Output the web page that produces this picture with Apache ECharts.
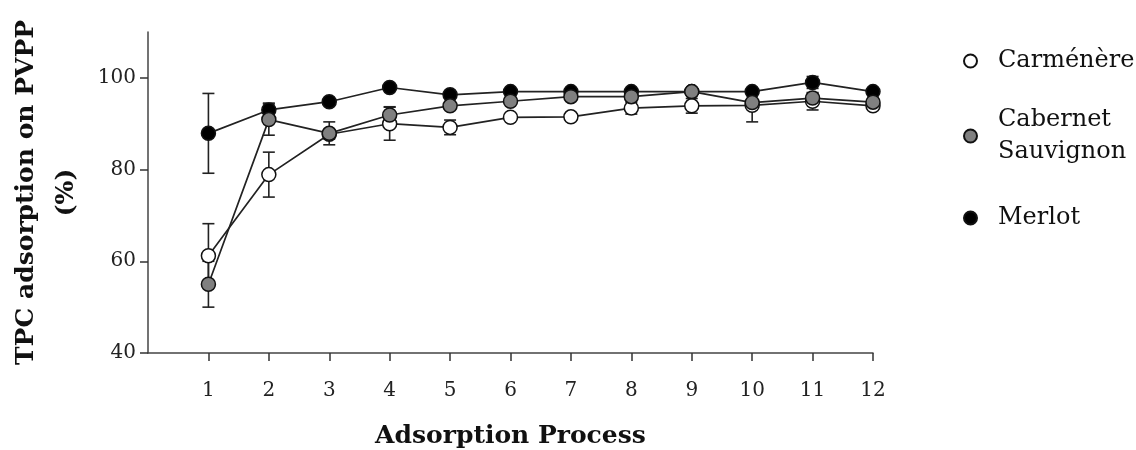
<!DOCTYPE html>
<html>
<head>
<meta charset="utf-8">
<script src="https://cdn.jsdelivr.net/npm/echarts@6/dist/echarts.min.js"></script>
<style>html,body{margin:0;padding:0;background:#fff}#c{width:1136px;height:450px}</style>
</head>
<body>
<div id="c"></div>
<script>
const processes = [1,2,3,4,5,6,7,8,9,10,11,12];
const carmenere = [61.2, 78.9, 87.7, 90.0, 89.2, 91.4, 91.5, 93.4, 93.9, 94.0, 94.9, 93.9];
const carmenereErr = [7.0, 4.9, 1.0, 3.6, 1.6, 0.5, 0.5, 1.3, 1.6, 3.6, 1.9, 0.5];
const cabernet = [55.0, 90.9, 87.9, 91.9, 93.9, 94.9, 95.9, 95.9, 97.0, 94.6, 95.6, 94.7];
const cabernetErr = [5.0, 3.4, 2.5, 1.8, 0.5, 0.5, 0.5, 0.5, 0.5, 0.8, 1.0, 0.5];
const merlot = [87.9, 93.0, 94.8, 97.9, 96.3, 97.0, 97.0, 97.0, 97.0, 97.0, 99.0, 97.0];
const merlotErr = [8.7, 1.5, 0.5, 0.5, 0.5, 0.5, 0.5, 0.5, 0.5, 0.5, 1.3, 0.5];
const yTicks = [40, 60, 80, 100];

const FONT = 'DejaVu Serif';
const LINE = '#222';

function pts(vals){ return processes.map((x,i)=>[x, vals[i]]); }
function errs(vals, e){ return processes.map((x,i)=>[x, vals[i]-e[i], vals[i]+e[i]]); }

function errSeries(vals, e, z){
  return {
    type: 'custom',
    z: z,
    silent: true,
    data: errs(vals, e),
    encode: {x: 0, y: [1, 2]},
    renderItem: function(params, api){
      const x = api.value(0);
      const lo = api.coord([x, api.value(1)]);
      const hi = api.coord([x, api.value(2)]);
      const w = 6;
      const st = {stroke: LINE, lineWidth: 1.6};
      return {type: 'group', children: [
        {type: 'line', shape: {x1: lo[0], y1: lo[1], x2: hi[0], y2: hi[1]}, style: st},
        {type: 'line', shape: {x1: lo[0]-w, y1: lo[1], x2: lo[0]+w, y2: lo[1]}, style: st},
        {type: 'line', shape: {x1: hi[0]-w, y1: hi[1], x2: hi[0]+w, y2: hi[1]}, style: st}
      ]};
    }
  };
}

function lineSeries(name, vals, fill, z){
  return {
    name: name, type: 'line', z: z,
    data: pts(vals),
    symbol: 'circle', symbolSize: 14,
    lineStyle: {color: LINE, width: 1.7},
    itemStyle: {color: fill, borderColor: '#111', borderWidth: 1.5},
    emphasis: {disabled: true},
    animation: false
  };
}

function legendAt(name, top, label){
  return {
    data: [name], left: 958, top: top, orient: 'vertical',
    icon: 'circle', itemWidth: 13, itemHeight: 13, itemGap: 0,
    formatter: label ? () => label : undefined,
    textStyle: {fontFamily: FONT, fontSize: 24, color: '#111', lineHeight: 32, padding: [0,0,0,16]},
    selectedMode: false
  };
}

const chart = echarts.init(document.getElementById('c'), null, {renderer: 'canvas'});
chart.setOption({
  animation: false,
  backgroundColor: '#fff',
  grid: {left: 148, right: 263, top: 32, bottom: 97, containLabel: false, outerBoundsMode: 'none'},
  legend: [
    legendAt('Carménère', 40),
    legendAt('Cabernet Sauvignon', 99, 'Cabernet\nSauvignon'),
    legendAt('Merlot', 197)
  ],
  xAxis: {
    type: 'value', min: 0, max: 12, interval: 1,
    name: 'Adsorption Process', nameLocation: 'middle', nameGap: 71,
    nameTextStyle: {fontFamily: FONT, fontWeight: 'bold', fontSize: 25, color: '#111'},
    axisLine: {lineStyle: {color: '#444', width: 1.5}},
    axisTick: {show: true, length: 8, lineStyle: {color: '#333', width: 1.5}, customValues: processes},
    axisLabel: {fontFamily: FONT, fontSize: 20, color: '#222', margin: 28, customValues: processes},
    splitLine: {show: false}
  },
  yAxis: {
    type: 'value', min: 40, max: 110, interval: 20,
    name: 'TPC adsorption on PVPP\n(%)', nameLocation: 'middle', nameGap: 58, nameRotate: 90,
    nameTextStyle: {fontFamily: FONT, fontWeight: 'bold', fontSize: 25, color: '#111', lineHeight: 40, align: 'center'},
    axisLine: {show: true, lineStyle: {color: '#444', width: 1.5}},
    axisTick: {show: true, length: 8, lineStyle: {color: '#333', width: 1.5}, customValues: yTicks},
    axisLabel: {fontFamily: FONT, fontSize: 20, color: '#222', margin: 12, customValues: yTicks},
    splitLine: {show: false}
  },
  series: [
    errSeries(carmenere, carmenereErr, 1),
    errSeries(merlot, merlotErr, 1),
    errSeries(cabernet, cabernetErr, 1),
    lineSeries('Carménère', carmenere, '#ffffff', 2),
    lineSeries('Merlot', merlot, '#000000', 3),
    lineSeries('Cabernet Sauvignon', cabernet, '#808080', 4)
  ]
});
</script>
</body>
</html>
